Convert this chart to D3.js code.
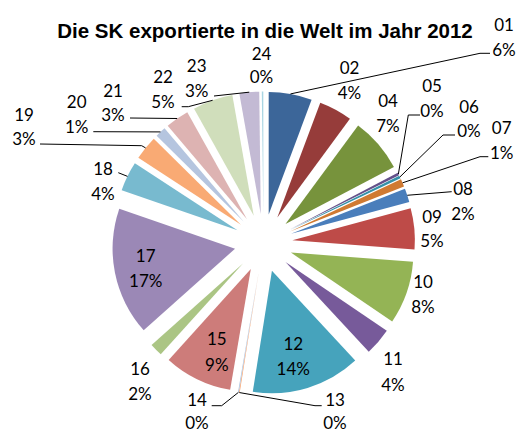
<!DOCTYPE html>
<html><head><meta charset="utf-8">
<script src="https://cdn.jsdelivr.net/npm/d3@7"></script>
<style>body{margin:0;background:#fff}svg{display:block}</style>
</head><body>
<svg id="chart" width="521" height="431"></svg>
<script>
// ---- data ----
const categories = ["01","02","04","05","06","07","08","09","10","11","12","13","14","15","16","17","18","19","20","21","22","23","24"];
const shares     = [5.7, 4.4, 7.2, 0.35, 0.35, 1.0, 1.8, 5.4, 8.3, 3.6, 14.4, 0.1, 0.1, 9.0, 1.7, 16.9, 3.9, 3.2, 1.4, 3.1, 5.3, 2.6, 0.2];
const title = "Die SK exportierte in die Welt im Jahr 2012";

// ---- styles ----
const colors = ["#3C6699","#963C3A","#77933C","#64508A","#3591A8","#D07A32","#4A7EBB","#BE4B48","#94B455","#775A9A","#46A3BC","#F7A068","#A7C0DE","#CD7C7A","#ABC584","#9B88B6","#78BACF","#F9AA74","#B5C5DF","#DDB3B2","#D0DEBB","#C3BAD4","#A9D5E2"];

// ---- layout ----
const W = 521, H = 431;
const cx = 263.5, cy = 243, R = 122.5, explode = 29;
const lineGap = 25;
// label block centres and leader elbows (from slice toward label)
const labelLayout = {
  "01": {x:504, y:37, leader:[[480,53.3],[490,53.3]]},
  "02": {x:349.5, y:79.5},
  "04": {x:388, y:112.5},
  "05": {x:432, y:97.5, leader:[[408.3,115],[420,115]]},
  "06": {x:469, y:118.7, gap:24, leader:[[443,135],[455,135]]},
  "07": {x:501.7, y:140, leader:[[480,156.7],[488.3,156.7]]},
  "08": {x:463, y:200.5, leader:[[451.7,191.7]]},
  "09": {x:432, y:228.5, gap:24},
  "10": {x:423, y:294.2},
  "11": {x:393, y:371.7, gap:26.5},
  "12": {x:293.3, y:355.7},
  "13": {x:335, y:410.5, gap:23, leader:[[315,405.7],[321.7,405.7]]},
  "14": {x:197, y:410.5, gap:23, leader:[[221.7,405.7],[211.7,405.7]]},
  "15": {x:216.8, y:351.7, gap:26.5},
  "16": {x:140, y:381},
  "17": {x:145.7, y:267.5},
  "18": {x:103, y:180.8, leader:[[118.3,172.7]]},
  "19": {x:24, y:126.7, gap:23.5, leader:[[141.7,145.7],[40,144]]},
  "20": {x:76.7, y:114.2, leader:[[93.3,131.7]]},
  "21": {x:113, y:102, gap:24, leader:[[130,118]]},
  "22": {x:163, y:89.2, leader:[[188.3,106.7],[181.7,106.7]]},
  "23": {x:196.7, y:77.5, leader:[[214,96]]},
  "24": {x:261.5, y:65, gap:23}
};

const svg = d3.select("#chart");
svg.append("rect").attr("width", W).attr("height", H).attr("fill", "#fff");

svg.append("text")
  .attr("x", 265).attr("y", 37.5)
  .attr("text-anchor", "middle")
  .attr("font-family", "'Liberation Sans', Arial, sans-serif")
  .attr("font-weight", "bold")
  .attr("font-size", 20.5)
  .attr("fill", "#000")
  .text(title);

const total = d3.sum(shares);
const data = categories.map((c, i) => ({cat: c, value: shares[i], color: colors[i]}));
const pie = d3.pie().value(d => d.value).sort(null).startAngle(0).endAngle(2 * Math.PI);
const arcs = pie(data);
const arc = d3.arc().innerRadius(0).outerRadius(R);

const unit = a => [Math.sin(a), -Math.cos(a)];

const g = svg.append("g").attr("transform", `translate(${cx},${cy})`);
g.selectAll("path.slice").data(arcs).enter().append("path")
  .attr("class", "slice")
  .attr("d", arc)
  .attr("fill", d => d.data.color)
  .attr("transform", d => {
    const m = (d.startAngle + d.endAngle) / 2;
    const u = unit(m);
    return `translate(${u[0] * explode},${u[1] * explode})`;
  });

// leader lines
const lineGen = d3.line();
arcs.forEach(d => {
  const lay = labelLayout[d.data.cat];
  if (!lay || !lay.leader) return;
  const m = (d.startAngle + d.endAngle) / 2;
  const u = unit(m);
  const start = [cx + u[0] * (explode + R), cy + u[1] * (explode + R)];
  svg.append("path")
    .attr("d", lineGen([start].concat(lay.leader)))
    .attr("fill", "none").attr("stroke", "#000").attr("stroke-width", 1);
});

// labels
arcs.forEach(d => {
  const lay = labelLayout[d.data.cat];
  const gap = lay.gap || lineGap;
  const pct = Math.round(d.data.value / total * 100) + "%";
  const t = svg.append("text")
    .attr("text-anchor", "middle")
    .attr("font-family", "Lato, 'Open Sans', sans-serif")
    .attr("font-size", 17)
    .attr("fill", "#000");
  t.append("tspan").attr("x", lay.x).attr("y", lay.y - gap / 2).attr("dominant-baseline", "central").text(d.data.cat);
  t.append("tspan").attr("x", lay.x).attr("y", lay.y + gap / 2).attr("dominant-baseline", "central").text(pct);
});
</script>
</body></html>
